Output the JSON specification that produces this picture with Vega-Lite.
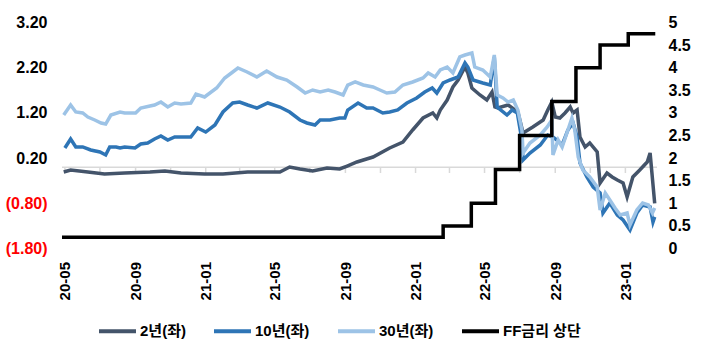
{
  "$schema": "https://vega.github.io/schema/vega-lite/v6.json",
  "width": 595,
  "height": 226,
  "autosize": {"type": "none"},
  "padding": {"left": 62, "top": 22.5, "right": 46, "bottom": 104.5},
  "background": "white",
  "config": {"view": {"stroke": null}, "font": "Liberation Sans, Noto Sans CJK KR"},
  "datasets": {
    "zero": [{"z": 0}],
    "ticks": [
      {"d": "2020-05-28"}, {"d": "2020-07-28"}, {"d": "2020-09-28"}, {"d": "2020-11-28"},
      {"d": "2021-01-28"}, {"d": "2021-03-28"}, {"d": "2021-05-28"}, {"d": "2021-07-28"},
      {"d": "2021-09-28"}, {"d": "2021-11-28"}, {"d": "2022-01-28"}, {"d": "2022-03-28"},
      {"d": "2022-05-28"}, {"d": "2022-07-28"}, {"d": "2022-09-28"}, {"d": "2022-11-28"},
      {"d": "2023-01-28"}
    ],
    "yields": [
      {"d": "2020-05-26", "s": "2년(좌)", "v": -0.107},
      {"d": "2020-06-07", "s": "2년(좌)", "v": -0.063},
      {"d": "2020-07-07", "s": "2년(좌)", "v": -0.107},
      {"d": "2020-08-05", "s": "2년(좌)", "v": -0.152},
      {"d": "2020-09-09", "s": "2년(좌)", "v": -0.130},
      {"d": "2020-10-23", "s": "2년(좌)", "v": -0.107},
      {"d": "2020-11-18", "s": "2년(좌)", "v": -0.085},
      {"d": "2020-12-16", "s": "2년(좌)", "v": -0.130},
      {"d": "2021-01-26", "s": "2년(좌)", "v": -0.152},
      {"d": "2021-02-27", "s": "2년(좌)", "v": -0.152},
      {"d": "2021-04-11", "s": "2년(좌)", "v": -0.107},
      {"d": "2021-06-06", "s": "2년(좌)", "v": -0.107},
      {"d": "2021-06-23", "s": "2년(좌)", "v": 0.003},
      {"d": "2021-07-11", "s": "2년(좌)", "v": -0.041},
      {"d": "2021-08-02", "s": "2년(좌)", "v": -0.085},
      {"d": "2021-08-27", "s": "2년(좌)", "v": -0.019},
      {"d": "2021-09-18", "s": "2년(좌)", "v": -0.041},
      {"d": "2021-10-01", "s": "2년(좌)", "v": 0.025},
      {"d": "2021-10-18", "s": "2년(좌)", "v": 0.114},
      {"d": "2021-11-15", "s": "2년(좌)", "v": 0.224},
      {"d": "2021-12-14", "s": "2년(좌)", "v": 0.423},
      {"d": "2022-01-06", "s": "2년(좌)", "v": 0.556},
      {"d": "2022-01-23", "s": "2년(좌)", "v": 0.822},
      {"d": "2022-02-10", "s": "2년(좌)", "v": 1.087},
      {"d": "2022-02-27", "s": "2년(좌)", "v": 1.198},
      {"d": "2022-03-06", "s": "2년(좌)", "v": 1.087},
      {"d": "2022-03-12", "s": "2년(좌)", "v": 1.264},
      {"d": "2022-03-24", "s": "2년(좌)", "v": 1.485},
      {"d": "2022-04-03", "s": "2년(좌)", "v": 1.773},
      {"d": "2022-04-12", "s": "2년(좌)", "v": 1.928},
      {"d": "2022-04-24", "s": "2년(좌)", "v": 2.215},
      {"d": "2022-04-29", "s": "2년(좌)", "v": 2.083},
      {"d": "2022-05-06", "s": "2년(좌)", "v": 1.751},
      {"d": "2022-05-20", "s": "2년(좌)", "v": 1.596},
      {"d": "2022-06-01", "s": "2년(좌)", "v": 1.485},
      {"d": "2022-06-10", "s": "2년(좌)", "v": 1.662},
      {"d": "2022-06-15", "s": "2년(좌)", "v": 1.330},
      {"d": "2022-06-20", "s": "2년(좌)", "v": 1.308},
      {"d": "2022-07-08", "s": "2년(좌)", "v": 1.375},
      {"d": "2022-07-25", "s": "2년(좌)", "v": 1.220},
      {"d": "2022-08-03", "s": "2년(좌)", "v": 0.755},
      {"d": "2022-08-20", "s": "2년(좌)", "v": 0.888},
      {"d": "2022-09-07", "s": "2년(좌)", "v": 1.043},
      {"d": "2022-09-15", "s": "2년(좌)", "v": 1.264},
      {"d": "2022-09-22", "s": "2년(좌)", "v": 1.441},
      {"d": "2022-09-28", "s": "2년(좌)", "v": 1.109},
      {"d": "2022-10-06", "s": "2년(좌)", "v": 1.087},
      {"d": "2022-10-15", "s": "2년(좌)", "v": 1.198},
      {"d": "2022-10-24", "s": "2년(좌)", "v": 1.330},
      {"d": "2022-10-29", "s": "2년(좌)", "v": 1.198},
      {"d": "2022-11-05", "s": "2년(좌)", "v": 1.264},
      {"d": "2022-11-10", "s": "2년(좌)", "v": 0.667},
      {"d": "2022-11-19", "s": "2년(좌)", "v": 0.446},
      {"d": "2022-11-27", "s": "2년(좌)", "v": 0.534},
      {"d": "2022-12-10", "s": "2년(좌)", "v": 0.335},
      {"d": "2022-12-15", "s": "2년(좌)", "v": -0.351},
      {"d": "2022-12-27", "s": "2년(좌)", "v": -0.130},
      {"d": "2023-01-05", "s": "2년(좌)", "v": -0.218},
      {"d": "2023-01-14", "s": "2년(좌)", "v": -0.285},
      {"d": "2023-01-24", "s": "2년(좌)", "v": -0.351},
      {"d": "2023-01-31", "s": "2년(좌)", "v": -0.660},
      {"d": "2023-02-10", "s": "2년(좌)", "v": -0.218},
      {"d": "2023-02-22", "s": "2년(좌)", "v": -0.063},
      {"d": "2023-03-07", "s": "2년(좌)", "v": 0.114},
      {"d": "2023-03-12", "s": "2년(좌)", "v": 0.313},
      {"d": "2023-03-20", "s": "2년(좌)", "v": -0.800},

      {"d": "2020-05-28", "s": "10년(좌)", "v": 0.423},
      {"d": "2020-06-07", "s": "10년(좌)", "v": 0.623},
      {"d": "2020-06-16", "s": "10년(좌)", "v": 0.446},
      {"d": "2020-06-28", "s": "10년(좌)", "v": 0.446},
      {"d": "2020-07-12", "s": "10년(좌)", "v": 0.379},
      {"d": "2020-07-28", "s": "10년(좌)", "v": 0.335},
      {"d": "2020-08-07", "s": "10년(좌)", "v": 0.269},
      {"d": "2020-08-14", "s": "10년(좌)", "v": 0.446},
      {"d": "2020-08-25", "s": "10년(좌)", "v": 0.446},
      {"d": "2020-09-01", "s": "10년(좌)", "v": 0.423},
      {"d": "2020-09-09", "s": "10년(좌)", "v": 0.446},
      {"d": "2020-09-27", "s": "10년(좌)", "v": 0.423},
      {"d": "2020-10-07", "s": "10년(좌)", "v": 0.512},
      {"d": "2020-10-19", "s": "10년(좌)", "v": 0.534},
      {"d": "2020-10-31", "s": "10년(좌)", "v": 0.623},
      {"d": "2020-11-11", "s": "10년(좌)", "v": 0.689},
      {"d": "2020-11-23", "s": "10년(좌)", "v": 0.600},
      {"d": "2020-12-05", "s": "10년(좌)", "v": 0.667},
      {"d": "2020-12-16", "s": "10년(좌)", "v": 0.667},
      {"d": "2021-01-02", "s": "10년(좌)", "v": 0.667},
      {"d": "2021-01-14", "s": "10년(좌)", "v": 0.866},
      {"d": "2021-01-28", "s": "10년(좌)", "v": 0.777},
      {"d": "2021-02-13", "s": "10년(좌)", "v": 0.932},
      {"d": "2021-02-27", "s": "10년(좌)", "v": 1.220},
      {"d": "2021-03-16", "s": "10년(좌)", "v": 1.419},
      {"d": "2021-03-28", "s": "10년(좌)", "v": 1.441},
      {"d": "2021-04-11", "s": "10년(좌)", "v": 1.375},
      {"d": "2021-04-27", "s": "10년(좌)", "v": 1.308},
      {"d": "2021-05-16", "s": "10년(좌)", "v": 1.419},
      {"d": "2021-06-06", "s": "10년(좌)", "v": 1.330},
      {"d": "2021-06-23", "s": "10년(좌)", "v": 1.220},
      {"d": "2021-07-11", "s": "10년(좌)", "v": 1.043},
      {"d": "2021-07-23", "s": "10년(좌)", "v": 0.977},
      {"d": "2021-08-06", "s": "10년(좌)", "v": 0.932},
      {"d": "2021-08-15", "s": "10년(좌)", "v": 1.043},
      {"d": "2021-09-01", "s": "10년(좌)", "v": 1.043},
      {"d": "2021-09-18", "s": "10년(좌)", "v": 1.087},
      {"d": "2021-09-27", "s": "10년(좌)", "v": 1.087},
      {"d": "2021-10-02", "s": "10년(좌)", "v": 1.264},
      {"d": "2021-10-20", "s": "10년(좌)", "v": 1.419},
      {"d": "2021-11-04", "s": "10년(좌)", "v": 1.308},
      {"d": "2021-11-15", "s": "10년(좌)", "v": 1.308},
      {"d": "2021-12-02", "s": "10년(좌)", "v": 1.198},
      {"d": "2021-12-14", "s": "10년(좌)", "v": 1.220},
      {"d": "2021-12-28", "s": "10년(좌)", "v": 1.264},
      {"d": "2022-01-13", "s": "10년(좌)", "v": 1.419},
      {"d": "2022-01-30", "s": "10년(좌)", "v": 1.530},
      {"d": "2022-02-13", "s": "10년(좌)", "v": 1.662},
      {"d": "2022-02-26", "s": "10년(좌)", "v": 1.751},
      {"d": "2022-03-06", "s": "10년(좌)", "v": 1.640},
      {"d": "2022-03-17", "s": "10년(좌)", "v": 1.862},
      {"d": "2022-03-29", "s": "10년(좌)", "v": 1.928},
      {"d": "2022-04-12", "s": "10년(좌)", "v": 1.994},
      {"d": "2022-04-24", "s": "10년(좌)", "v": 2.304},
      {"d": "2022-04-29", "s": "10년(좌)", "v": 2.215},
      {"d": "2022-05-08", "s": "10년(좌)", "v": 1.928},
      {"d": "2022-05-25", "s": "10년(좌)", "v": 1.862},
      {"d": "2022-06-07", "s": "10년(좌)", "v": 1.817},
      {"d": "2022-06-14", "s": "10년(좌)", "v": 2.437},
      {"d": "2022-06-19", "s": "10년(좌)", "v": 1.330},
      {"d": "2022-07-06", "s": "10년(좌)", "v": 1.153},
      {"d": "2022-07-15", "s": "10년(좌)", "v": 1.264},
      {"d": "2022-07-24", "s": "10년(좌)", "v": 1.198},
      {"d": "2022-08-01", "s": "10년(좌)", "v": 0.600},
      {"d": "2022-08-03", "s": "10년(좌)", "v": 0.158},
      {"d": "2022-08-15", "s": "10년(좌)", "v": 0.313},
      {"d": "2022-09-02", "s": "10년(좌)", "v": 0.490},
      {"d": "2022-09-15", "s": "10년(좌)", "v": 0.711},
      {"d": "2022-09-24", "s": "10년(좌)", "v": 0.667},
      {"d": "2022-10-01", "s": "10년(좌)", "v": 0.600},
      {"d": "2022-10-10", "s": "10년(좌)", "v": 0.490},
      {"d": "2022-10-20", "s": "10년(좌)", "v": 0.822},
      {"d": "2022-10-29", "s": "10년(좌)", "v": 0.977},
      {"d": "2022-11-05", "s": "10년(좌)", "v": 0.667},
      {"d": "2022-11-10", "s": "10년(좌)", "v": 0.092},
      {"d": "2022-11-22", "s": "10년(좌)", "v": -0.218},
      {"d": "2022-12-03", "s": "10년(좌)", "v": -0.439},
      {"d": "2022-12-15", "s": "10년(좌)", "v": -0.572},
      {"d": "2022-12-20", "s": "10년(좌)", "v": -1.014},
      {"d": "2023-01-01", "s": "10년(좌)", "v": -0.793},
      {"d": "2023-01-14", "s": "10년(좌)", "v": -1.059},
      {"d": "2023-01-24", "s": "10년(좌)", "v": -1.169},
      {"d": "2023-02-05", "s": "10년(좌)", "v": -1.391},
      {"d": "2023-02-17", "s": "10년(좌)", "v": -1.014},
      {"d": "2023-02-27", "s": "10년(좌)", "v": -0.838},
      {"d": "2023-03-12", "s": "10년(좌)", "v": -0.882},
      {"d": "2023-03-17", "s": "10년(좌)", "v": -1.214},
      {"d": "2023-03-20", "s": "10년(좌)", "v": -1.100},

      {"d": "2020-05-26", "s": "30년(좌)", "v": 1.153},
      {"d": "2020-06-07", "s": "30년(좌)", "v": 1.375},
      {"d": "2020-06-16", "s": "30년(좌)", "v": 1.220},
      {"d": "2020-06-28", "s": "30년(좌)", "v": 1.198},
      {"d": "2020-07-07", "s": "30년(좌)", "v": 1.109},
      {"d": "2020-07-19", "s": "30년(좌)", "v": 1.043},
      {"d": "2020-07-30", "s": "30년(좌)", "v": 0.977},
      {"d": "2020-08-07", "s": "30년(좌)", "v": 0.954},
      {"d": "2020-08-16", "s": "30년(좌)", "v": 1.153},
      {"d": "2020-09-01", "s": "30년(좌)", "v": 1.220},
      {"d": "2020-09-09", "s": "30년(좌)", "v": 1.198},
      {"d": "2020-09-18", "s": "30년(좌)", "v": 1.198},
      {"d": "2020-09-28", "s": "30년(좌)", "v": 1.198},
      {"d": "2020-10-07", "s": "30년(좌)", "v": 1.308},
      {"d": "2020-10-23", "s": "30년(좌)", "v": 1.353},
      {"d": "2020-10-31", "s": "30년(좌)", "v": 1.375},
      {"d": "2020-11-11", "s": "30년(좌)", "v": 1.441},
      {"d": "2020-11-23", "s": "30년(좌)", "v": 1.330},
      {"d": "2020-12-05", "s": "30년(좌)", "v": 1.419},
      {"d": "2020-12-16", "s": "30년(좌)", "v": 1.397},
      {"d": "2021-01-02", "s": "30년(좌)", "v": 1.419},
      {"d": "2021-01-11", "s": "30년(좌)", "v": 1.618},
      {"d": "2021-01-26", "s": "30년(좌)", "v": 1.552},
      {"d": "2021-02-16", "s": "30년(좌)", "v": 1.751},
      {"d": "2021-03-02", "s": "30년(좌)", "v": 1.972},
      {"d": "2021-03-16", "s": "30년(좌)", "v": 2.105},
      {"d": "2021-03-25", "s": "30년(좌)", "v": 2.193},
      {"d": "2021-04-10", "s": "30년(좌)", "v": 2.105},
      {"d": "2021-04-27", "s": "30년(좌)", "v": 1.994},
      {"d": "2021-05-14", "s": "30년(좌)", "v": 2.127},
      {"d": "2021-06-01", "s": "30년(좌)", "v": 1.994},
      {"d": "2021-06-18", "s": "30년(좌)", "v": 1.928},
      {"d": "2021-07-06", "s": "30년(좌)", "v": 1.773},
      {"d": "2021-07-20", "s": "30년(좌)", "v": 1.640},
      {"d": "2021-08-02", "s": "30년(좌)", "v": 1.707},
      {"d": "2021-08-15", "s": "30년(좌)", "v": 1.662},
      {"d": "2021-08-29", "s": "30년(좌)", "v": 1.707},
      {"d": "2021-09-10", "s": "30년(좌)", "v": 1.662},
      {"d": "2021-09-24", "s": "30년(좌)", "v": 1.596},
      {"d": "2021-10-02", "s": "30년(좌)", "v": 1.817},
      {"d": "2021-10-15", "s": "30년(좌)", "v": 1.884},
      {"d": "2021-10-29", "s": "30년(좌)", "v": 1.817},
      {"d": "2021-11-15", "s": "30년(좌)", "v": 1.773},
      {"d": "2021-11-27", "s": "30년(좌)", "v": 1.707},
      {"d": "2021-12-09", "s": "30년(좌)", "v": 1.640},
      {"d": "2021-12-23", "s": "30년(좌)", "v": 1.662},
      {"d": "2022-01-06", "s": "30년(좌)", "v": 1.817},
      {"d": "2022-01-23", "s": "30년(좌)", "v": 1.884},
      {"d": "2022-02-10", "s": "30년(좌)", "v": 1.972},
      {"d": "2022-02-19", "s": "30년(좌)", "v": 2.083},
      {"d": "2022-03-03", "s": "30년(좌)", "v": 1.994},
      {"d": "2022-03-12", "s": "30년(좌)", "v": 2.149},
      {"d": "2022-03-24", "s": "30년(좌)", "v": 2.215},
      {"d": "2022-04-03", "s": "30년(좌)", "v": 2.083},
      {"d": "2022-04-15", "s": "30년(좌)", "v": 2.437},
      {"d": "2022-04-24", "s": "30년(좌)", "v": 2.481},
      {"d": "2022-05-06", "s": "30년(좌)", "v": 2.525},
      {"d": "2022-05-11", "s": "30년(좌)", "v": 2.215},
      {"d": "2022-05-25", "s": "30년(좌)", "v": 2.149},
      {"d": "2022-06-07", "s": "30년(좌)", "v": 1.994},
      {"d": "2022-06-14", "s": "30년(좌)", "v": 2.481},
      {"d": "2022-06-19", "s": "30년(좌)", "v": 1.596},
      {"d": "2022-06-29", "s": "30년(좌)", "v": 1.530},
      {"d": "2022-07-08", "s": "30년(좌)", "v": 1.441},
      {"d": "2022-07-17", "s": "30년(좌)", "v": 1.485},
      {"d": "2022-07-25", "s": "30년(좌)", "v": 1.264},
      {"d": "2022-08-01", "s": "30년(좌)", "v": 0.822},
      {"d": "2022-08-03", "s": "30년(좌)", "v": 0.313},
      {"d": "2022-08-15", "s": "30년(좌)", "v": 0.534},
      {"d": "2022-09-02", "s": "30년(좌)", "v": 0.711},
      {"d": "2022-09-14", "s": "30년(좌)", "v": 0.888},
      {"d": "2022-09-22", "s": "30년(좌)", "v": 1.043},
      {"d": "2022-09-24", "s": "30년(좌)", "v": 0.269},
      {"d": "2022-10-03", "s": "30년(좌)", "v": 0.600},
      {"d": "2022-10-10", "s": "30년(좌)", "v": 0.446},
      {"d": "2022-10-20", "s": "30년(좌)", "v": 0.822},
      {"d": "2022-10-27", "s": "30년(좌)", "v": 1.087},
      {"d": "2022-11-01", "s": "30년(좌)", "v": 0.822},
      {"d": "2022-11-07", "s": "30년(좌)", "v": 0.224},
      {"d": "2022-11-15", "s": "30년(좌)", "v": -0.063},
      {"d": "2022-11-27", "s": "30년(좌)", "v": -0.218},
      {"d": "2022-12-10", "s": "30년(좌)", "v": -0.439},
      {"d": "2022-12-15", "s": "30년(좌)", "v": -0.948},
      {"d": "2022-12-24", "s": "30년(좌)", "v": -0.572},
      {"d": "2023-01-01", "s": "30년(좌)", "v": -0.727},
      {"d": "2023-01-10", "s": "30년(좌)", "v": -0.904},
      {"d": "2023-01-19", "s": "30년(좌)", "v": -1.059},
      {"d": "2023-01-31", "s": "30년(좌)", "v": -1.014},
      {"d": "2023-02-05", "s": "30년(좌)", "v": -1.280},
      {"d": "2023-02-17", "s": "30년(좌)", "v": -0.948},
      {"d": "2023-02-27", "s": "30년(좌)", "v": -0.793},
      {"d": "2023-03-09", "s": "30년(좌)", "v": -0.838},
      {"d": "2023-03-16", "s": "30년(좌)", "v": -1.014},
      {"d": "2023-03-20", "s": "30년(좌)", "v": -0.904}
    ],
    "ff": [
      {"d": "2020-05-23", "s": "FF금리 상단", "v": 0.25},
      {"d": "2022-03-17", "s": "FF금리 상단", "v": 0.5},
      {"d": "2022-05-05", "s": "FF금리 상단", "v": 1.0},
      {"d": "2022-06-16", "s": "FF금리 상단", "v": 1.75},
      {"d": "2022-07-28", "s": "FF금리 상단", "v": 2.5},
      {"d": "2022-09-22", "s": "FF금리 상단", "v": 3.25},
      {"d": "2022-11-03", "s": "FF금리 상단", "v": 4.0},
      {"d": "2022-12-15", "s": "FF금리 상단", "v": 4.5},
      {"d": "2023-02-02", "s": "FF금리 상단", "v": 4.75},
      {"d": "2023-03-21", "s": "FF금리 상단", "v": 4.75}
    ]
  },
  "layer": [
    {
      "layer": [
        {
          "data": {"name": "zero"},
          "mark": {"type": "rule", "color": "#D9D9D9", "strokeWidth": 1.5},
          "encoding": {"y": {"field": "z", "type": "quantitative"}}
        },
        {
          "data": {"name": "ticks"},
          "mark": {"type": "rule", "color": "#D9D9D9", "strokeWidth": 1.5},
          "encoding": {
            "x": {"field": "d", "type": "temporal"},
            "y": {"datum": 0, "type": "quantitative"},
            "y2": {"datum": -0.13}
          }
        },
        {
          "data": {"name": "yields"},
          "mark": {"type": "line", "strokeWidth": 3.5},
          "encoding": {
            "x": {
              "field": "d", "type": "temporal",
              "scale": {"domain": [{"year": 2020, "month": 5, "date": 23}, {"year": 2023, "month": 3, "date": 24}]},
              "axis": {
                "title": null, "grid": false, "domain": false, "ticks": false, "tickSize": 0,
                "format": "%y-%m", "labelAngle": -90, "labelFontSize": 15, "labelFontWeight": "bold",
                "labelColor": "#000000", "labelPadding": 13, "labelOverlap": false,
                "values": [
                  {"year": 2020, "month": 5, "date": 28}, {"year": 2020, "month": 7, "date": 28},
                  {"year": 2020, "month": 9, "date": 28}, {"year": 2020, "month": 11, "date": 28},
                  {"year": 2021, "month": 1, "date": 28}, {"year": 2021, "month": 3, "date": 28},
                  {"year": 2021, "month": 5, "date": 28}, {"year": 2021, "month": 7, "date": 28},
                  {"year": 2021, "month": 9, "date": 28}, {"year": 2021, "month": 11, "date": 28},
                  {"year": 2022, "month": 1, "date": 28}, {"year": 2022, "month": 3, "date": 28},
                  {"year": 2022, "month": 5, "date": 28}, {"year": 2022, "month": 7, "date": 28},
                  {"year": 2022, "month": 9, "date": 28}, {"year": 2022, "month": 11, "date": 28},
                  {"year": 2023, "month": 1, "date": 28}
                ]
              }
            },
            "y": {
              "field": "v", "type": "quantitative",
              "scale": {"domain": [-1.8, 3.2], "nice": false, "zero": false},
              "axis": {
                "title": null, "grid": false, "domain": false, "ticks": false, "tickSize": 0,
                "labelOverlap": false,
                "values": [-1.8, -1.3, -0.8, -0.3, 0.2, 0.7, 1.2, 1.7, 2.2, 2.7, 3.2],
                "labelExpr": "datum.value < 0 ? '(' + format(-datum.value, '.2f') + ')' : format(datum.value, '.2f')",
                "labelColor": {"condition": {"test": "datum.value < 0", "value": "#FF0000"}, "value": "#000000"},
                "labelFontSize": 16, "labelFontWeight": "bold", "labelPadding": 15
              }
            },
            "color": {
              "field": "s", "type": "nominal",
              "scale": {
                "domain": ["2년(좌)", "10년(좌)", "30년(좌)", "FF금리 상단"],
                "range": ["#44546A", "#2E75B6", "#9DC3E6", "#000000"]
              },
              "legend": {
                "title": null, "orient": "none", "direction": "horizontal",
                "legendX": 35, "legendY": 288,
                "symbolType": "stroke", "symbolSize": 1369, "symbolStrokeWidth": 4,
                "labelFontSize": 15, "labelFontWeight": "bold", "labelColor": "#000000",
                "labelOffset": 2, "columnPadding": 20
              }
            }
          }
        }
      ]
    },
    {
      "data": {"name": "ff"},
      "mark": {"type": "line", "strokeWidth": 3.5, "interpolate": "step-after"},
      "encoding": {
        "x": {"field": "d", "type": "temporal"},
        "y": {
          "field": "v", "type": "quantitative",
          "scale": {"domain": [0, 5], "nice": false, "zero": false},
          "axis": {
            "orient": "right", "title": null, "grid": false, "domain": false, "ticks": false, "tickSize": 0,
            "labelOverlap": false,
            "values": [0, 0.5, 1, 1.5, 2, 2.5, 3, 3.5, 4, 4.5, 5], "format": "~g",
            "labelFontSize": 16, "labelFontWeight": "bold", "labelColor": "#000000", "labelPadding": 11
          }
        },
        "color": {"field": "s", "type": "nominal"}
      }
    }
  ],
  "resolve": {"scale": {"y": "independent"}}
}
